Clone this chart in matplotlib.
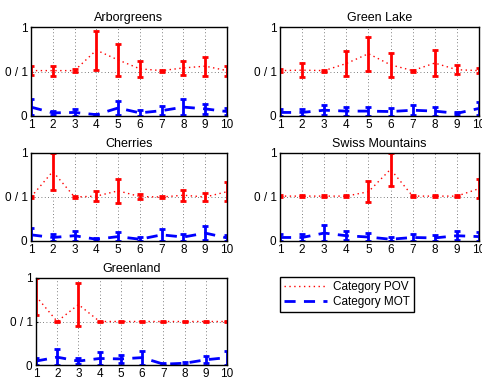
import matplotlib
matplotlib.use('Agg')
import matplotlib.pyplot as plt
from matplotlib.lines import Line2D

plt.rcParams['font.family'] = ['Liberation Sans', 'DejaVu Sans']

x = list(range(1, 11))
titles = ['Arborgreens', 'Green Lake', 'Cherries', 'Swiss Mountains', 'Greenland']

# upper half (0.5..1) holds POV, lower half (0..0.5) holds MOT
pov_mean = [
    [0.51, 0.51, 0.51, 0.74, 0.63, 0.53, 0.51, 0.54, 0.56, 0.51],
    [0.51, 0.515, 0.51, 0.59, 0.70, 0.575, 0.51, 0.595, 0.52, 0.51],
    [0.50, 0.79, 0.50, 0.51, 0.57, 0.505, 0.50, 0.52, 0.50, 0.56],
    [0.51, 0.51, 0.51, 0.51, 0.56, 0.815, 0.51, 0.51, 0.51, 0.595],
    [0.79, 0.50, 0.695, 0.50, 0.50, 0.50, 0.50, 0.50, 0.50, 0.50],
]
pov_err = [
    [0.05, 0.055, 0.015, 0.22, 0.175, 0.09, 0.01, 0.08, 0.105, 0.055],
    [0.02, 0.075, 0.01, 0.14, 0.19, 0.135, 0.01, 0.145, 0.05, 0.025],
    [0.01, 0.21, 0.01, 0.06, 0.14, 0.03, 0.01, 0.065, 0.04, 0.11],
    [0.015, 0.015, 0.015, 0.015, 0.12, 0.185, 0.015, 0.015, 0.015, 0.105],
    [0.21, 0.01, 0.245, 0.01, 0.01, 0.01, 0.01, 0.01, 0.01, 0.01],
]
mot_mean = [
    [0.10, 0.035, 0.04, 0.015, 0.09, 0.035, 0.06, 0.10, 0.08, 0.05],
    [0.04, 0.04, 0.065, 0.055, 0.055, 0.05, 0.065, 0.055, 0.03, 0.085],
    [0.07, 0.04, 0.06, 0.02, 0.05, 0.02, 0.07, 0.045, 0.09, 0.035],
    [0.04, 0.04, 0.09, 0.06, 0.045, 0.02, 0.04, 0.035, 0.06, 0.05],
    [0.045, 0.09, 0.045, 0.075, 0.07, 0.085, 0.01, 0.02, 0.06, 0.085],
]
mot_err = [
    [0.09, 0.02, 0.04, 0.01, 0.075, 0.03, 0.05, 0.09, 0.06, 0.04],
    [0.035, 0.035, 0.055, 0.05, 0.05, 0.045, 0.055, 0.05, 0.02, 0.07],
    [0.08, 0.035, 0.055, 0.015, 0.05, 0.02, 0.065, 0.04, 0.08, 0.03],
    [0.045, 0.045, 0.09, 0.05, 0.045, 0.02, 0.035, 0.03, 0.05, 0.05],
    [0.04, 0.09, 0.035, 0.075, 0.05, 0.08, 0.01, 0.015, 0.04, 0.08],
]
ytick_labels = ['0', '0 / 1', '1']

W, H = 482, 387
fig = plt.figure(figsize=(W / 100, H / 100), dpi=100)

# pixel boxes (left, top, right, bottom)
boxes = [
    (31, 27, 227, 116),
    (280, 27, 479, 116),
    (31, 153, 227, 241),
    (280, 153, 479, 241),
    (36, 278, 227, 365),
]

for i, t in enumerate(titles):
    l, tp, r, b = boxes[i]
    ax = fig.add_axes([l / W, 1 - b / H, (r - l) / W, (b - tp) / H])
    ax.errorbar(x, pov_mean[i], yerr=pov_err[i], color='red', linestyle=':',
                linewidth=1.0, elinewidth=2, capsize=2, capthick=2, dashes=(1, 2.5))
    ax.errorbar(x, mot_mean[i], yerr=mot_err[i], color='blue', linestyle='--',
                linewidth=2, elinewidth=2, capsize=2, capthick=2, dashes=(4, 3))
    ax.set_xlim(1, 10)
    ax.set_ylim(0, 1)
    ax.set_xticks(x)
    ax.set_yticks([0, 0.5, 1])
    ax.set_yticklabels(ytick_labels)
    ax.tick_params(direction='in', length=1.5, labelsize=8.5, pad=2.5)
    ax.grid(True, color='#555555', linewidth=0.6, dashes=(1, 3))
    ax.set_axisbelow(True)
    for s in ax.spines.values():
        s.set_linewidth(1)
    ax.set_title(t, fontsize=9, pad=4)

handles = [Line2D([0], [0], color='red', linestyle=':', linewidth=1.0, dashes=(1, 2.5)),
           Line2D([0], [0], color='blue', linestyle='--', linewidth=2, dashes=(4, 3))]
leg = fig.legend(handles, ['Category POV', 'Category MOT'], loc='upper left',
                 bbox_to_anchor=(280 / W, 1 - 277 / H), fontsize=8.5, fancybox=False,
                 framealpha=1, edgecolor='black', handlelength=3.6, borderpad=0.35,
                 labelspacing=0.25, handletextpad=0.5, borderaxespad=0)
leg.get_frame().set_linewidth(1)

fig.savefig('out.png', dpi=100)
